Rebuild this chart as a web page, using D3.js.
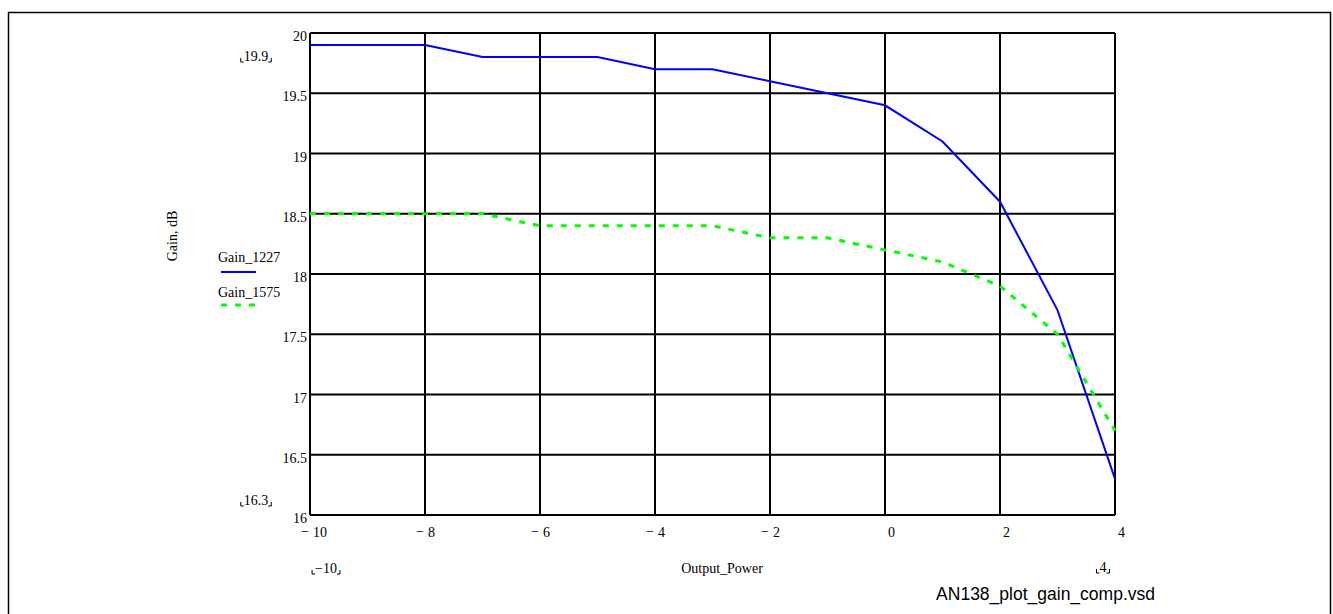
<!DOCTYPE html>
<html>
<head>
<meta charset="utf-8">
<script src="https://cdn.jsdelivr.net/npm/d3@7"></script>
<style>
  body { margin: 0; background: #fff; }
  svg { display: block; }
</style>
</head>
<body>
<div id="chart"></div>
<script>
// data
const outputPower = [-10, -9, -8, -7, -6, -5, -4, -3, -2, -1, 0, 1, 2, 3, 4];
const gain1227 = [19.9, 19.9, 19.9, 19.8, 19.8, 19.8, 19.7, 19.7, 19.6, 19.5, 19.4, 19.1, 18.6, 17.7, 16.3];
const gain1575 = [18.5, 18.5, 18.5, 18.5, 18.4, 18.4, 18.4, 18.4, 18.3, 18.3, 18.2, 18.1, 17.9, 17.5, 16.7];
const xTicks = [-10, -8, -6, -4, -2, 0, 2, 4];
const yTicks = [16, 16.5, 17, 17.5, 18, 18.5, 19, 19.5, 20];
const seriesNames = ["Gain_1227", "Gain_1575"];

const width = 1333, height = 614;
const serif = "'Liberation Serif', 'Times New Roman', serif";

const svg = d3.select("#chart").append("svg")
    .attr("width", width)
    .attr("height", height);

// outer frame (open at the bottom)
svg.append("path")
    .attr("d", "M8.5,614 V12.5 H1330.5 V614")
    .attr("fill", "none")
    .attr("stroke", "black")
    .attr("stroke-width", 1.5);

const x = d3.scaleLinear().domain([-10, 4]).range([310, 1115]);
const y = d3.scaleLinear().domain([16, 20]).range([515, 33]);

// grid
svg.append("g").selectAll("line")
    .data(xTicks)
    .enter().append("line")
    .attr("x1", d => x(d)).attr("x2", d => x(d))
    .attr("y1", y(16)).attr("y2", y(20))
    .attr("stroke", "black").attr("stroke-width", 2);

svg.append("g").selectAll("line")
    .data(yTicks)
    .enter().append("line")
    .attr("x1", x(-10)).attr("x2", x(4))
    .attr("y1", d => y(d)).attr("y2", d => y(d))
    .attr("stroke", "black").attr("stroke-width", 2);

// y tick labels
svg.append("g").selectAll("text")
    .data(yTicks)
    .enter().append("text")
    .attr("x", x(-10) - 3)
    .attr("y", d => y(d) + 8)
    .attr("text-anchor", "end")
    .attr("font-family", serif)
    .attr("font-size", 14)
    .text(d => d);

// x tick labels, Mathcad style "− 8"
const xl = svg.append("g").selectAll("g")
    .data(xTicks)
    .enter().append("g");
xl.append("text")
    .attr("x", d => x(d) + 3)
    .attr("y", 537)
    .attr("font-family", serif)
    .attr("font-size", 14)
    .text(d => Math.abs(d));
xl.filter(d => d < 0).append("text")
    .attr("x", d => x(d) - 1)
    .attr("y", 536)
    .attr("text-anchor", "end")
    .attr("font-family", serif)
    .attr("font-size", 14)
    .text("\u2212");

// traces
const line = d3.line().x((d, i) => x(outputPower[i])).y(d => y(d));

svg.append("path")
    .datum(gain1227)
    .attr("d", line)
    .attr("fill", "none")
    .attr("stroke", "#0000ff")
    .attr("stroke-width", 2);

svg.append("path")
    .datum(gain1575)
    .attr("d", line)
    .attr("fill", "none")
    .attr("stroke", "#00ff00")
    .attr("stroke-width", 3)
    .attr("stroke-dasharray", "6,8");

// legend
const legend = [
    {name: seriesNames[0], ty: 262, ly: 272, color: "#0000ff", w: 2, dash: null},
    {name: seriesNames[1], ty: 297, ly: 305, color: "#00ff00", w: 3, dash: "6,8"}
];
legend.forEach(l => {
    svg.append("text")
        .attr("x", 218).attr("y", l.ty)
        .attr("font-family", serif).attr("font-size", 14)
        .text(l.name);
    svg.append("line")
        .attr("x1", 221).attr("x2", 256)
        .attr("y1", l.ly).attr("y2", l.ly)
        .attr("stroke", l.color)
        .attr("stroke-width", l.w)
        .attr("stroke-dasharray", l.dash);
});

// axis titles
svg.append("text")
    .attr("transform", "translate(177,236) rotate(-90)")
    .attr("text-anchor", "middle")
    .attr("font-family", serif).attr("font-size", 14)
    .text("Gain, dB");

svg.append("text")
    .attr("x", 722).attr("y", 573)
    .attr("text-anchor", "middle")
    .attr("font-family", serif).attr("font-size", 14)
    .text("Output_Power");

// range markers with corner brackets
function marker(cx, by, label) {
    const t = svg.append("text")
        .attr("x", cx).attr("y", by)
        .attr("text-anchor", "middle")
        .attr("font-family", serif).attr("font-size", 14)
        .text(label);
    const w = t.node().getComputedTextLength();
    const l = cx - w / 2 - 3, r = cx + w / 2 + 3, b = by + 1;
    svg.append("path")
        .attr("d", `M${l},${b - 4} V${b} H${l + 3} M${r},${b - 4} V${b} H${r - 3}`)
        .attr("fill", "none").attr("stroke", "black").attr("stroke-width", 1);
}
marker(256, 61, "19.9");
marker(256, 505, "16.3");
marker(326, 573, "\u221210");
marker(1103, 572, "4");

// caption
svg.append("text")
    .attr("x", 1155).attr("y", 600)
    .attr("text-anchor", "end")
    .attr("font-family", "'Liberation Sans', Arial, sans-serif")
    .attr("font-size", 17.5)
    .text("AN138_plot_gain_comp.vsd");
</script>
</body>
</html>
